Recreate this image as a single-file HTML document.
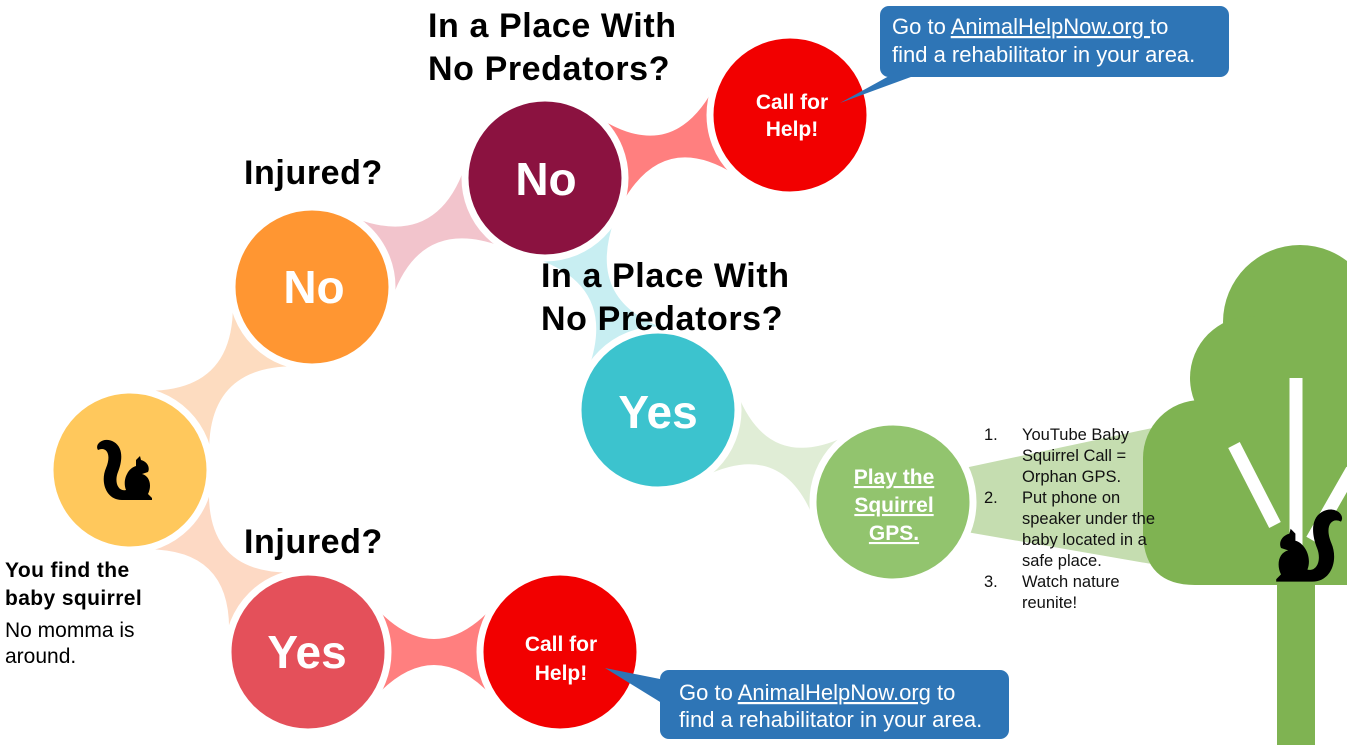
<!DOCTYPE html>
<html><head><meta charset="utf-8"><style>
body{margin:0;width:1347px;height:745px;overflow:hidden;background:#fff;font-family:"Liberation Sans",sans-serif}
svg{position:absolute;left:0;top:0}
</style></head><body>
<svg width="1347" height="745" viewBox="0 0 1347 745" xmlns="http://www.w3.org/2000/svg">
<defs>
<g id="sq">
<path d="M-6,28 C-22,28 -28,10 -22,-4 C-16,-18 -22,-26 -30,-22 C-34,-28 -24,-36 -14,-30 C-4,-24 -6,-10 -10,0 C-14,10 -10,20 -2,18 C-6,8 0,-4 8,-6 L8,-12 L12,-16 L13,-12 C20,-10 22,-4 20,0 L14,2 C22,4 24,14 20,22 L24,26 L24,28 Z" fill="#000"/>
</g>
</defs>
<g id="conn"></g>
<polygon points="955,470 1190,420 1215,575 955,530" fill="#C5DDB0"/>
<g fill="#7FB352">
<rect x="1277" y="560" width="38" height="185"/>
<circle cx="1300" cy="322" r="77"/>
<circle cx="1252" cy="378" r="62"/>
<circle cx="1201" cy="458" r="58"/>
<path d="M1143,458 L1347,458 L1347,585 L1195,585 Q1145,585 1143,535 Z"/>
<rect x="1250" y="320" width="97" height="265"/>
<rect x="1201" y="378" width="60" height="100"/>
</g>
<g stroke="#fff" stroke-width="13">
<line x1="1296" y1="378" x2="1296" y2="545"/>
<line x1="1234" y1="445" x2="1275" y2="525"/>
<line x1="1352" y1="470" x2="1312" y2="540"/>
</g>
<g transform="translate(1305,548) scale(1.2)"><use href="#sq" transform="scale(-1,1)"/></g>
<g stroke="#fff" stroke-width="7">
<circle cx="130" cy="470" r="80" fill="#FFC85C"/>
<circle cx="312" cy="287" r="80" fill="#FF9632"/>
<circle cx="545" cy="178" r="80" fill="#8B1240"/>
<circle cx="790" cy="115" r="80" fill="#F20000"/>
<circle cx="658" cy="410" r="80" fill="#3CC3CE"/>
<circle cx="893" cy="502" r="80" fill="#92C46E"/>
<circle cx="308" cy="652" r="80" fill="#E4505A"/>
<circle cx="560" cy="652" r="80" fill="#F20000"/>
</g>
<g transform="translate(128,472)"><use href="#sq"/></g>
<g fill="#fff" font-weight="bold" text-anchor="middle">
<text x="314" y="303" font-size="46">No</text>
<text x="546" y="195" font-size="46">No</text>
<text x="658" y="428" font-size="46">Yes</text>
<text x="307" y="668" font-size="46">Yes</text>
<text x="792" y="109" font-size="21">Call for</text>
<text x="792" y="136" font-size="21">Help!</text>
<text x="561" y="651" font-size="21">Call for</text>
<text x="561" y="680" font-size="21">Help!</text>
<g font-size="21" text-decoration="underline"><text x="894" y="484">Play the</text><text x="894" y="512">Squirrel</text><text x="894" y="540">GPS.</text></g>
</g>
<g font-weight="bold" font-size="34" fill="#000" letter-spacing="0.6">
<text x="428" y="37">In a Place With</text>
<text x="428" y="80">No Predators?</text>
<text x="541" y="287">In a Place With</text>
<text x="541" y="330">No Predators?</text>
<text x="244" y="184">Injured?</text>
<text x="244" y="553">Injured?</text>
</g>
<text x="5" y="577" font-size="21" font-weight="bold" letter-spacing="0.4">You find the</text>
<text x="5" y="605" font-size="21" font-weight="bold" letter-spacing="0.4">baby squirrel</text>
<text x="5" y="637" font-size="21">No momma is</text>
<text x="5" y="663" font-size="21">around.</text>
<g font-size="16.5" fill="#111">
<text x="984" y="440">1.</text><text x="1022" y="440">YouTube Baby</text>
<text x="1022" y="461">Squirrel Call =</text>
<text x="1022" y="482">Orphan GPS.</text>
<text x="984" y="503">2.</text><text x="1022" y="503">Put phone on</text>
<text x="1022" y="524">speaker under the</text>
<text x="1022" y="545">baby located in a</text>
<text x="1022" y="566">safe place.</text>
<text x="984" y="587">3.</text><text x="1022" y="587">Watch nature</text>
<text x="1022" y="608">reunite!</text>
</g>
<g fill="#2E75B6">
<rect x="880" y="6" width="349" height="71" rx="9"/>
<polygon points="900,70 930,70 840,103"/>
<rect x="660" y="670" width="349" height="69" rx="9"/>
<polygon points="665,680 665,705 605,668"/>
</g>
<g fill="#fff" font-size="22">
<text x="892" y="34">Go to <tspan text-decoration="underline">AnimalHelpNow.org </tspan>to</text>
<text x="892" y="62">find a rehabilitator in your area.</text>
<text x="679" y="700">Go to <tspan text-decoration="underline">AnimalHelpNow.org</tspan> to</text>
<text x="679" y="727">find a rehabilitator in your area.</text>
</g>
</svg>
<script>
var C=[[130,470,312,287,"#FDDCC0"],[312,287,545,178,"#F2C4CC"],[545,178,790,115,"#FF7F7F"],[545,178,658,410,"#C8EEF2"],[658,410,893,502,"#E0EDD6"],[130,470,308,652,"#FDD9C4"],[308,652,560,652,"#FF7F7F"]];
var g=document.getElementById("conn"),s="";
C.forEach(function(c){var dx=c[2]-c[0],dy=c[3]-c[1],L=Math.hypot(dx,dy),ux=dx/L,uy=dy/L,nx=-uy,ny=ux,h=44,k=-18;
var a=[c[0]+ux*68,c[1]+uy*68],b=[c[2]-ux*68,c[3]-uy*68],mx=(c[0]+c[2])/2,my=(c[1]+c[3])/2;
function p(x,y,q){return (x+nx*q).toFixed(1)+","+(y+ny*q).toFixed(1)}
s+='<path fill="'+c[4]+'" d="M'+p(a[0],a[1],h)+' Q'+p(mx,my,k)+' '+p(b[0],b[1],h)+' L'+p(b[0],b[1],-h)+' Q'+p(mx,my,-k)+' '+p(a[0],a[1],-h)+'Z"/>';});
g.innerHTML=s;
</script>
</body></html>
